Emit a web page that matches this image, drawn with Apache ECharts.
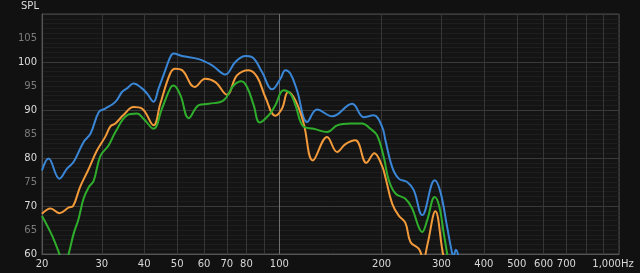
<!DOCTYPE html>
<html>
<head>
<meta charset="utf-8">
<script src="https://cdn.jsdelivr.net/npm/echarts@6/dist/echarts.min.js"></script>
<style>
html,body{margin:0;padding:0;background:#111111;}
#chart{width:640px;height:273px;}
</style>
</head>
<body>
<div id="chart"></div>
<script>
// ---- data (frequency in Hz, SPL in dB) ----
const blueFreq = [20,20.9,22.5,23.7,24.8,26.5,27.8,29.4,30.7,32.9,34.4,35.6,37.2,39.4,40.8,42.6,44.1,46.2,47.7,48.8,51.7,57.9,63.4,69.3,74.2,79.4,83.1,88.9,95.2,100.7,104.1,107.7,112.7,120.7,129.1,143,163.8,177.1,189.6,200.7,205.2,214.8,224.6,237.8,248.7,263.3,286.7,298,311.9,321.2,325.4,331,336.8,346];
const blueSpl  = [77.4,79.9,75.7,77.8,79.2,83.3,85.1,89.6,90.3,91.7,93.75,94.5,95.5,94.5,93.4,91.7,94.5,98.4,101,101.75,101.25,100.6,99.3,97.4,100,101.25,101,97.9,94.3,96.5,98.3,97.6,94.1,87.5,90.1,88.7,91.3,88.5,88.9,86.5,83.7,78.1,75.7,75,73.3,68.1,75.35,72.9,65.6,60.8,59.5,60.9,59.5,55];

const orangeFreq = [20,21.2,22.5,24,24.7,25.9,27.4,29,30.7,31.8,32.9,34.8,37.2,39.4,42.6,44.6,47.7,49.4,51.7,56.3,60.5,64.8,70.1,75,81.2,86,90.9,97.3,101.8,106.1,111.5,117.9,125.5,138.2,147.9,156.5,167.5,180.4,190.2,200.7,205.2,214.8,224.6,235,243.2,257.2,265.6,272.9,288,301.6,308.3,319];
const orangeSpl  = [68.4,69.5,68.5,69.7,70,74,77.6,81.5,84.4,86.6,87.2,89,90.6,90.3,86.8,91.3,97.6,98.6,98.3,94.8,96.5,95.8,93.2,97.2,98.3,96.9,92.7,88.8,90.3,93.75,92,87.2,79.5,84.4,81.25,82.9,83.7,79,81,78.3,76,70.5,68,66.5,62.5,61.1,59,62,68.9,61,57,52];

const greenFreq = [20,21.2,21.9,22.5,23.2,24,24.8,25.6,26.5,27.4,28.4,29.7,31.4,32.9,35.6,38.1,39.8,42.6,45.1,47.7,48.8,51.1,54.1,57.9,61.9,68.5,73.3,77.3,80.3,84,87.5,93,97.3,102.9,107.7,111.5,117.9,126.2,138.2,147.9,161.9,175.2,185.4,194,202.9,209.9,219.7,235,246,257.2,263.3,272.3,286.7,296,304.8,311.9,319];
const greenSpl  = [67.9,64.5,62.2,60,56.5,60.2,64.3,67.2,71.5,73.8,75.3,80.4,82.6,85.4,88.9,89.25,88.2,86.1,90.3,94.5,95.1,93.1,88.3,91,91.3,92,95.1,96,94.8,91,87.4,88.9,91,94.1,93.4,91,86.5,86.1,85.4,86.8,87.2,87.2,86.1,84.7,80.2,75.4,72.6,71.5,69.5,65.6,64.6,67,71.9,69.8,64.3,60,55];

const gridFreqs  = [20,30,40,50,60,70,80,90,100,200,300,400,500,600,700,800,900,1000];
const labelFreqs = [20,30,40,50,60,70,80,100,200,300,400,500,600,700,1000];

function pairs(f, s){ return f.map((v,i)=>[v, s[i]]); }

const chart = echarts.init(document.getElementById('chart'), null, {renderer:'canvas'});
const font = 'DejaVu Sans';
chart.setOption({
  animation:false,
  backgroundColor:'#111111',
  title:{text:'SPL', left:21, top:1, padding:0,
    textStyle:{color:'#dddddd', fontSize:10, fontWeight:'normal', fontFamily:font}},
  grid:{left:42, right:21, top:14, bottom:19, show:true, backgroundColor:'#141414', borderColor:'#4a4a4a', borderWidth:1},
  xAxis:{
    type:'log', logBase:10, min:20, max:1000,
    axisLine:{show:true, lineStyle:{color:'#555555', width:1}},
    axisTick:{show:false, customValues:gridFreqs},
    axisLabel:{customValues:labelFreqs, color:'#d8d8d8', fontSize:10, fontFamily:font, margin:5,
      formatter:function(v){ return v===1000 ? '{last|1,000Hz}' : String(v); },
      rich:{last:{color:'#d8d8d8', fontSize:10, fontFamily:font, padding:[0,12,0,0]}}},
    splitLine:{show:true, lineStyle:{width:1, color: gridFreqs.map(v => v===100 ? '#6e6e6e' : '#363636')}}
  },
  yAxis:{
    type:'value', min:60, max:110, interval:5,
    axisLine:{show:true, lineStyle:{color:'#555555'}},
    axisTick:{show:false},
    minorTick:{show:false, splitNumber:5},
    minorSplitLine:{show:true, lineStyle:{color:'#1e1e1e', width:1}},
    axisLabel:{fontSize:10, fontFamily:font, margin:5,
      color:function(v){ return (Number(v) % 10 === 0) ? '#dcdcdc' : '#7c7c7c'; },
      formatter:function(v){ return v===110 ? '' : String(v); }},
    splitLine:{show:true, lineStyle:{width:1, color:['#3a3a3a','#1e1e1e']}}
  },
  series:[
    {type:'line', name:'blue', data:pairs(blueFreq, blueSpl), smooth:0.4, showSymbol:false, clip:true,
      lineStyle:{color:'#3a86d6', width:2}, itemStyle:{color:'#3a86d6'}},
    {type:'line', name:'orange', data:pairs(orangeFreq, orangeSpl), smooth:0.4, showSymbol:false, clip:true,
      lineStyle:{color:'#f39a3a', width:2}, itemStyle:{color:'#f39a3a'}},
    {type:'line', name:'green', data:pairs(greenFreq, greenSpl), smooth:0.4, showSymbol:false, clip:true,
      lineStyle:{color:'#2fae2c', width:2}, itemStyle:{color:'#2fae2c'}}
  ]
});
</script>
</body>
</html>
